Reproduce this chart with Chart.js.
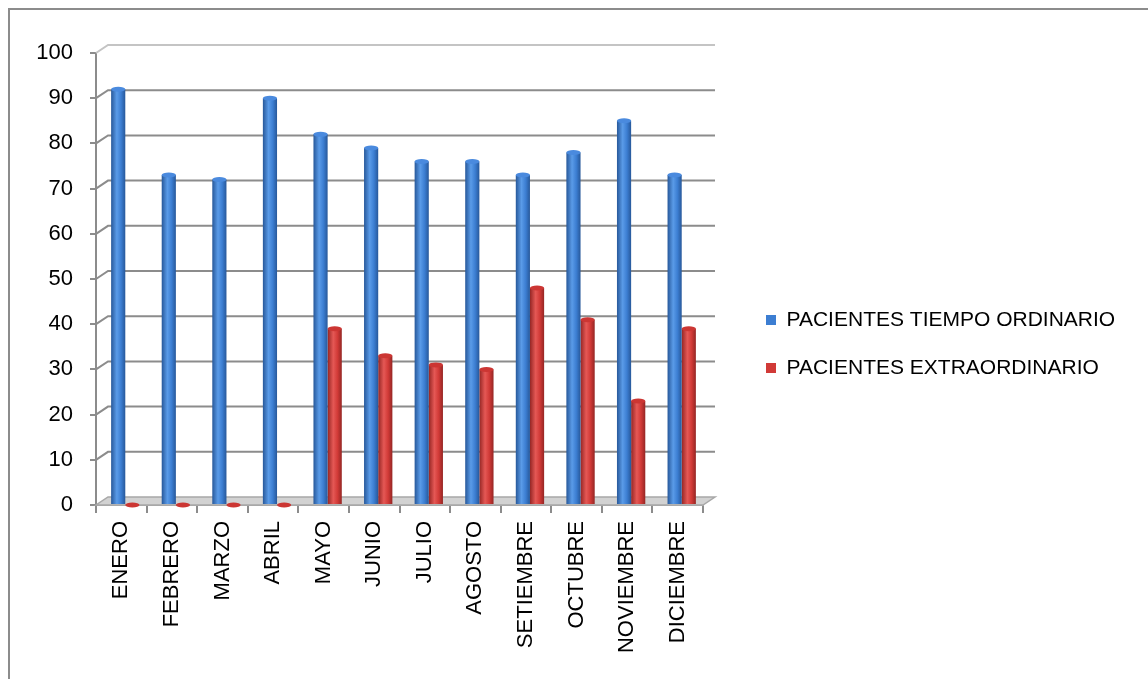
<!DOCTYPE html>
<html>
<head>
<meta charset="utf-8">
<script src="https://cdn.jsdelivr.net/npm/chart.js@4/dist/chart.umd.min.js"></script>
<style>
  html, body { margin: 0; padding: 0; background: #fff; overflow: hidden; }
  #frame {
    position: absolute; left: 8px; top: 8px;
    width: 1160px; height: 700px;
    border: 2px solid #8c8c8c; background: #fff;
  }
  #wrap { position: absolute; left: 0; top: 0; width: 1138px; height: 669px; }
</style>
</head>
<body>
<div id="frame">
  <div id="wrap"><canvas id="chart"></canvas></div>
</div>
<script>
// meses
const meses = ["ENERO", "FEBRERO", "MARZO", "ABRIL", "MAYO", "JUNIO",
               "JULIO", "AGOSTO", "SETIEMBRE", "OCTUBRE", "NOVIEMBRE", "DICIEMBRE"];
// pacientes por mes
const ordinario      = [92, 73, 72, 90, 82, 79, 76, 76, 73, 78, 85, 73];
const extraordinario = [0, 0, 0, 0, 39, 33, 31, 30, 48, 41, 23, 39];
const series = ["PACIENTES TIEMPO ORDINARIO", "PACIENTES EXTRAORDINARIO"];

const GRIS = "#8c8c8c";
const FONT = "'Liberation Sans', Arial, sans-serif";
const DX = 12, DY = 8;     // profundidad del "3D"

// colores del cilindro: borde oscuro, centro claro
const tonos = [
  { dark: "#27589a", mid: "#3c7ed2", light: "#5a9be8", cap: "#4a8ade" },
  { dark: "#952624", mid: "#d13a37", light: "#e55855", cap: "#cc3633" }
];

/* ================= PARED Y PISO ================= */
const fondo3d = {
  id: "fondo3d",
  beforeDatasetsDraw(chart){
    const ctx = chart.ctx;
    const y = chart.scales.y, x = chart.scales.x;
    const L = x.left, R = x.right;
    const y0 = y.getPixelForValue(0);

    ctx.save();
    // piso
    ctx.beginPath();
    ctx.moveTo(L, y0);
    ctx.lineTo(R, y0);
    ctx.lineTo(R + DX, y0 - DY);
    ctx.lineTo(L + DX, y0 - DY);
    ctx.closePath();
    ctx.fillStyle = "#d2d2d2";
    ctx.fill();
    ctx.strokeStyle = "#a8a8a8";
    ctx.lineWidth = 1.5;
    ctx.stroke();

    // lineas de la pared del fondo
    y.ticks.forEach(t => {
      if(t.value === 0) return;
      const py = y.getPixelForValue(t.value);
      ctx.beginPath();
      ctx.moveTo(L, py);
      ctx.lineTo(L + DX, py - DY);
      ctx.lineTo(R + DX, py - DY);
      ctx.strokeStyle = t.value === 100 ? "#c4c4c4" : GRIS;
      ctx.lineWidth = 2;
      ctx.stroke();
    });
    ctx.restore();

    // barras a media profundidad
    ctx.save();
    ctx.translate(4, 0);

    // degradado tipo cilindro para cada barra
    chart.data.datasets.forEach((ds, i) => {
      const meta = chart.getDatasetMeta(i);
      const c = tonos[i];
      meta.data.forEach(bar => {
        const w = bar.width;
        const g = ctx.createLinearGradient(bar.x - w / 2, 0, bar.x + w / 2, 0);
        g.addColorStop(0, c.dark);
        g.addColorStop(0.4, c.light);
        g.addColorStop(0.7, c.mid);
        g.addColorStop(1, c.dark);
        bar.options.backgroundColor = g;
      });
    });
  },
  afterDatasetsDraw(chart){
    const ctx = chart.ctx;
    // tapa eliptica de cada cilindro
    chart.data.datasets.forEach((ds, i) => {
      const meta = chart.getDatasetMeta(i);
      meta.data.forEach(bar => {
        ctx.beginPath();
        ctx.ellipse(bar.x, bar.y, bar.width / 2, 2.5, 0, 0, Math.PI * 2);
        ctx.fillStyle = tonos[i].cap;
        ctx.fill();
      });
    });
    ctx.restore();
  }
};

/* ================= LEYENDA ================= */
const leyenda = {
  id: "leyenda",
  beforeInit(chart){
    const fit = chart.legend.fit;
    chart.legend.fit = function(){
      fit.bind(chart.legend)();
      this.width = 445;
    };
  },
  afterLayout(chart){
    const lg = chart.legend;
    lg.left += 36; lg.right += 36;
    lg.top -= 22; lg.bottom -= 22;
  }
};

new Chart(document.getElementById("chart"), {
  type: "bar",
  data: {
    labels: meses,
    datasets: [
      // color como funcion: cada barra guarda sus propias opciones
      { label: series[0], data: ordinario, backgroundColor: () => tonos[0].mid },
      { label: series[1], data: extraordinario, backgroundColor: () => tonos[1].mid }
    ]
  },
  options: {
    responsive: true,
    maintainAspectRatio: false,
    animation: false,
    layout: { padding: { top: 43, left: 0, right: 0, bottom: 0 } },
    datasets: { bar: { categoryPercentage: 0.56, barPercentage: 1 } },
    scales: {
      x: {
        grid: { drawOnChartArea: false, drawTicks: true, tickLength: 8, color: GRIS, lineWidth: 2 },
        border: { display: true, color: "#a8a8a8", width: 2 },
        ticks: { color: "#000", font: { family: FONT, size: 22 }, minRotation: 90, maxRotation: 90, padding: 8, autoSkip: false },
        afterFit(s){ s.height = 174; }
      },
      y: {
        min: 0, max: 100,
        grid: { drawOnChartArea: false, drawTicks: true, tickLength: 6, color: GRIS, lineWidth: 2 },
        border: { display: true, color: GRIS, width: 2 },
        ticks: { stepSize: 10, color: "#000", font: { family: FONT, size: 22 }, padding: 17 },
        afterFit(s){ s.width = 86; }
      }
    },
    plugins: {
      legend: {
        position: "right",
        labels: {
          boxWidth: 10, boxHeight: 10, padding: 27,
          color: "#000", font: { family: FONT, size: 21 }
        }
      },
      tooltip: { enabled: false }
    }
  },
  plugins: [fondo3d, leyenda]
});
</script>
</body>
</html>
